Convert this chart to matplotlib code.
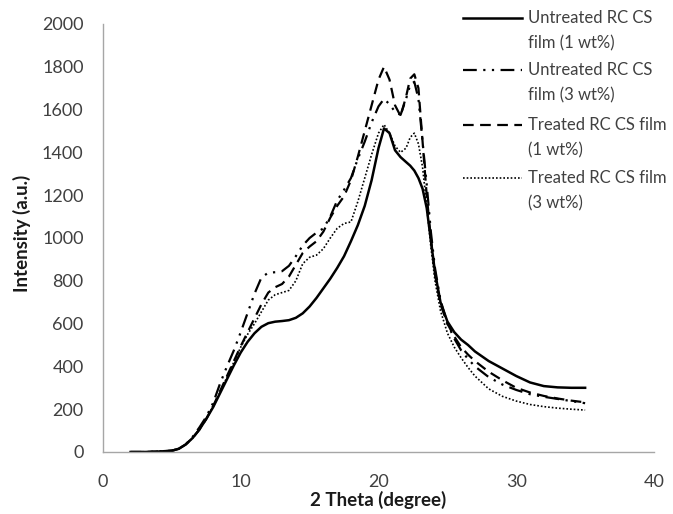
import matplotlib
matplotlib.use('Agg')
import matplotlib.pyplot as plt
from matplotlib.lines import Line2D

plt.rcParams['font.family'] = ['Lato', 'DejaVu Sans']

# 2 theta (degree)
theta = [2, 3, 4, 5, 5.5, 6, 6.5, 7, 7.5, 8, 8.5, 9, 9.5, 10, 10.5, 11, 11.5, 12,
         12.5, 13, 13.5, 14, 14.5, 15, 15.5, 16, 16.5, 17, 17.5, 18, 18.5, 19,
         19.5, 20, 20.4, 20.8, 21.2, 21.6, 22, 22.3, 22.6, 22.9, 23.2, 23.5,
         23.8, 24.1, 24.5, 25, 25.5, 26, 26.5, 27, 28, 29, 30, 31, 32, 33, 34, 35]

untreated_1 = [0, 0, 2, 6, 15, 35, 65, 105, 155, 210, 275, 340, 405, 465, 515, 555,
               585, 602, 609, 612, 616, 627, 648, 680, 720, 765, 810, 860, 915,
               985, 1060, 1150, 1270, 1420, 1512, 1490, 1410, 1378, 1355, 1338,
               1315, 1280, 1230, 1140, 990, 840, 700, 610, 560, 525, 500, 470,
               425, 390, 355, 325, 308, 302, 300, 300]

untreated_3 = [0, 0, 2, 6, 15, 35, 70, 115, 165, 230, 320, 400, 475, 560, 650, 740,
               815, 838, 840, 845, 870, 915, 965, 1000, 1025, 1045, 1100, 1175,
               1225, 1280, 1370, 1450, 1540, 1615, 1650, 1625, 1590, 1575, 1650,
               1715, 1730, 1650, 1450, 1250, 1030, 860, 710, 600, 530, 475, 435,
               400, 350, 315, 290, 270, 258, 248, 238, 228]

treated_1 = [0, 0, 2, 6, 15, 35, 65, 105, 155, 215, 285, 355, 425, 495, 560, 625,
             690, 745, 770, 785, 820, 875, 930, 960, 985, 1030, 1095, 1150, 1195,
             1270, 1380, 1500, 1620, 1740, 1800, 1740, 1620, 1570, 1660, 1745,
             1765, 1700, 1450, 1200, 1000, 830, 690, 600, 540, 490, 455, 425,
             375, 335, 300, 278, 262, 250, 240, 232]

treated_3 = [0, 0, 2, 6, 15, 35, 65, 105, 155, 215, 280, 350, 420, 490, 550, 600,
             655, 710, 735, 745, 755, 800, 880, 910, 920, 950, 1000, 1045, 1068,
             1075, 1170, 1280, 1390, 1490, 1530, 1490, 1430, 1400, 1420, 1470,
             1490, 1440, 1330, 1150, 960, 800, 660, 556, 490, 440, 395, 355, 295,
             260, 238, 222, 212, 205, 200, 196]

labels = [('Untreated RC CS', 'film (1 wt%)'),
          ('Untreated RC CS', 'film (3 wt%)'),
          ('Treated RC CS film', '(1 wt%)'),
          ('Treated RC CS film', '(3 wt%)')]

styles = [dict(linestyle='-', linewidth=1.8),
          dict(linestyle=(0, (6.2, 2.9, 1, 2.9, 1, 2.9)), linewidth=1.6),
          dict(linestyle=(0, (4.8, 2.9)), linewidth=1.6),
          dict(linestyle=(0, (1, 1.2)), linewidth=1.2)]

W, H = 673, 514
fig = plt.figure(figsize=(W / 100, H / 100), dpi=100)
ax = fig.add_axes([103 / W, 1 - 452 / H, 551 / W, 428 / H])

series = [untreated_1, untreated_3, treated_1, treated_3]
for vals, st in zip(series, styles):
    ax.plot(theta, vals, color='black', **st)

ax.set_xlim(0, 40)
ax.set_ylim(0, 2000)
ax.set_xticks(range(0, 41, 10))
ax.set_yticks(range(0, 2001, 200))
for s in ['top', 'right']:
    ax.spines[s].set_visible(False)
for s in ['left', 'bottom']:
    ax.spines[s].set_color('#a6a6a6')
    ax.spines[s].set_linewidth(1)
ax.tick_params(length=0, labelsize=13, colors='#404040')
ax.tick_params(axis='y', pad=14)
ax.tick_params(axis='x', pad=16)

ax.set_xlabel('2 Theta (degree)', fontsize=13.5, fontweight='bold', color='#1a1a1a')
ax.set_ylabel('Intensity (a.u.)', fontsize=13.5, fontweight='bold', color='#1a1a1a')
ax.xaxis.set_label_coords(0.5, -0.092)
ax.yaxis.set_label_coords(-0.13, 0.51)

# legend drawn by hand so the key lines sit on the first text line
first_y = [18, 70, 125, 178]
for (l1, l2), st, yp in zip(labels, styles, first_y):
    fy = 1 - yp / H
    fig.add_artist(Line2D([463 / W, 522 / W], [fy, fy], color='black',
                          transform=fig.transFigure, **st))
    fig.text(528 / W, fy, l1, fontsize=12, color='#404040', va='center')
    fig.text(528 / W, 1 - (yp + 25) / H, l2, fontsize=12, color='#404040', va='center')

fig.savefig('out.png', dpi=100)
